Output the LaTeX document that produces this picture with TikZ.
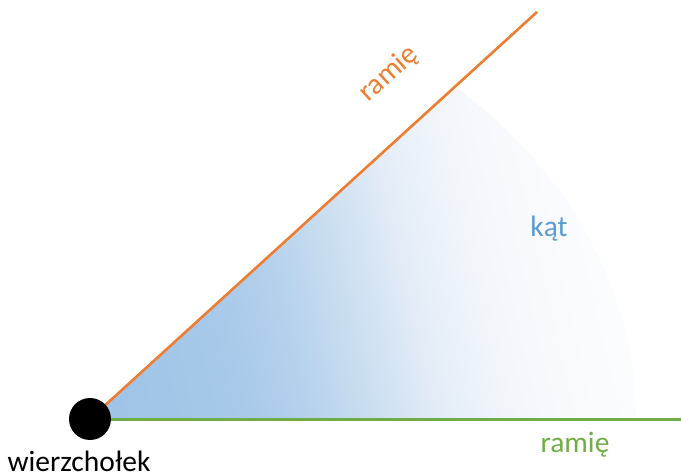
\documentclass[tikz,border=0pt]{standalone}
\usepackage{fontspec}
\setmainfont{Carlito}
\definecolor{armorange}{HTML}{ED7D31}
\definecolor{armgreen}{HTML}{70AD47}
\definecolor{angblue}{HTML}{5B9BD5}
\definecolor{fa}{RGB}{157,195,230}
\definecolor{fb}{RGB}{168,201,233}
\definecolor{fc}{RGB}{180,209,236}
\definecolor{fd}{RGB}{204,223,241}
\definecolor{fe}{RGB}{227,236,247}
\definecolor{ff}{RGB}{242,246,251}
\definecolor{fg}{RGB}{250,251,254}
\definecolor{fh}{RGB}{253,254,255}
\pgfdeclarehorizontalshading{angfade}{100bp}{color(0bp)=(fa); color(32bp)=(fa); color(42.6bp)=(fb); color(46.8bp)=(fc); color(51.8bp)=(fd); color(56bp)=(fe); color(60.9bp)=(ff); color(67.3bp)=(fg); color(74.3bp)=(fh); color(100bp)=(fh)}
\tikzset{
  lbl/.style={font=\fontsize{29.5}{31}\selectfont, inner sep=0pt},
}
\begin{document}
\begin{tikzpicture}[x=1pt,y=1pt]
\useasboundingbox (0,0) rectangle (681,475);
\coordinate (V) at (90,56);
\coordinate (O) at (537,463);
\coordinate (G) at (681,56);
% angle fill (elliptical sector)
\begin{scope}
  \clip (V) -- ++(546,0) arc[start angle=0, end angle=48, x radius=546, y radius=447] -- cycle;
  \begin{scope}[transform canvas={rotate around={13:(V)}}]
    \shade[shading=angfade] (-10,-300) rectangle (700,700);
  \end{scope}
\end{scope}
\draw[armorange, line width=2.6pt] (V) -- (O);
\draw[armgreen, line width=3pt] (V) -- (G);
\fill[black] (V) circle[radius=21];
\node[lbl, anchor=base] (w) at (79,4) {wierzchołek};
\node[lbl, anchor=base, text=angblue] (k) at (549,238) {kąt};
\node[lbl, anchor=base, text=armgreen] (r2) at (575,23) {ramię};
\node[lbl, anchor=center, rotate=42, text=armorange] (r1) at (389,401) {ramię};
\end{tikzpicture}
\end{document}
